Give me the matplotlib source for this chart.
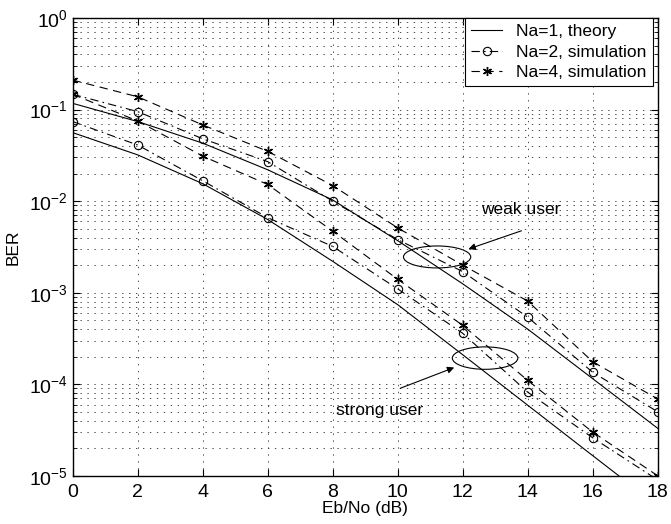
import numpy as np
import matplotlib
matplotlib.use("Agg")
import matplotlib.pyplot as plt
from matplotlib.patches import Ellipse
from matplotlib.ticker import LogLocator, NullFormatter

plt.rcParams['font.family'] = ['Liberation Sans', 'DejaVu Sans']
plt.rcParams['lines.scale_dashes'] = False

# Eb/No points (dB)
ebno = [0, 2, 4, 6, 8, 10, 12, 14, 16, 18]

# weak user
weak_theory = [0.117, 0.074, 0.043, 0.022, 0.0103, 0.0037, 0.00125, 4.0e-4, 1.15e-4, 3.3e-5]
weak_na2 = [0.147, 0.095, 0.048, 0.027, 0.0100, 0.0038, 0.0017, 5.4e-4, 1.35e-4, 5.0e-5]
weak_na4 = [0.21, 0.138, 0.068, 0.035, 0.0148, 0.0051, 0.0020, 8.1e-4, 1.76e-4, 6.9e-5]

# strong user
strong_theory = [0.056, 0.032, 0.0155, 0.0063, 0.0022, 7.4e-4, 2.1e-4, 5.9e-5, 1.66e-5, 4.7e-6]
strong_na2 = [0.074, 0.041, 0.0167, 0.0066, 0.0032, 0.0011, 3.6e-4, 8.2e-5, 2.6e-5, 9.0e-6]
strong_na4 = [0.147, 0.075, 0.031, 0.0152, 0.0047, 0.0014, 4.4e-4, 1.1e-4, 3.0e-5, 1.0e-5]

fig = plt.figure(figsize=(6.71, 5.24), dpi=100)
ax = fig.add_axes([0.1083, 0.0921, 0.8718, 0.8735])

ast = (6, 2, 0)  # asterisk marker
lw = 0.8
dash = (6, 4)
dashdot = (6, 3, 1.2, 3)
circ = dict(marker='o', ms=6, mfc='none', mec='k', mew=0.8)
star = dict(marker=ast, ms=6.5, mec='k', mew=1.0)

for th, n2, n4 in [(weak_theory, weak_na2, weak_na4), (strong_theory, strong_na2, strong_na4)]:
    ax.plot(ebno, th, color='k', lw=lw, ls='-')
    ax.plot(ebno, n2, color='k', lw=lw, ls='-', dashes=dashdot, **circ)
    ax.plot(ebno, n4, color='k', lw=lw, ls='-', dashes=dash, **star)

ax.set_yscale('log')
ax.set_xlim(0, 18)
ax.set_ylim(1e-5, 1)
ax.set_xticks(range(0, 19, 2))
ax.yaxis.set_major_locator(LogLocator(base=10, numticks=10))
ax.yaxis.set_minor_locator(LogLocator(base=10, subs=np.arange(2, 10), numticks=10))
ax.yaxis.set_minor_formatter(NullFormatter())

gridstyle = dict(ls=(0, (1, 4)), color='0.3', lw=0.7)
ax.grid(True, which='major', **gridstyle)
ax.yaxis.grid(True, which='minor', **gridstyle)
ax.tick_params(which='both', direction='in', top=True, right=True)
ax.tick_params(axis='x', labelsize=14, pad=6)
ax.tick_params(axis='y', labelsize=14)
ax.tick_params(which='major', length=5)
ax.tick_params(which='minor', length=3)
for s in ax.spines.values():
    s.set_linewidth(1.0)

ax.set_xlabel('Eb/No (dB)', fontsize=12.5, labelpad=0)
ax.set_ylabel('BER', fontsize=12.5, labelpad=6)

# legend proxies
h1, = ax.plot([], [], color='k', lw=lw, ls='-')
h2, = ax.plot([], [], color='k', lw=lw, ls='-', dashes=dashdot, **circ)
h3, = ax.plot([], [], color='k', lw=lw, ls='-', dashes=dash, **star)
leg = ax.legend([h1, h2, h3], ['Na=1, theory', 'Na=2, simulation', 'Na=4, simulation'],
                loc='upper right', bbox_to_anchor=(0.9915, 1.0), borderaxespad=0,
                fontsize=12.5, fancybox=False, framealpha=1, edgecolor='k',
                handlelength=1.8, handletextpad=0.8, labelspacing=0.3, borderpad=0.35)
leg.get_frame().set_linewidth(0.8)

# ellipses around curve groups
ax.add_patch(Ellipse((0.623, 0.478), 0.115, 0.048, transform=ax.transAxes,
                     fill=False, ec='k', lw=0.8))
ax.add_patch(Ellipse((0.705, 0.257), 0.112, 0.049, transform=ax.transAxes,
                     fill=False, ec='k', lw=0.8))

ax.text(13.8, 8.2e-3, 'weak user', fontsize=12.5, ha='center', va='center')
ax.annotate('', xy=(12.1, 2.93e-3), xytext=(13.89, 4.85e-3),
            arrowprops=dict(arrowstyle='-|>', color='k', lw=0.8, mutation_scale=10))
ax.text(9.44, 5.1e-5, 'strong user', fontsize=12.5, ha='center', va='center')
ax.annotate('', xy=(11.82, 1.56e-4), xytext=(10.0, 8.8e-5),
            arrowprops=dict(arrowstyle='-|>', color='k', lw=0.8, mutation_scale=10))

fig.savefig('out.png', dpi=100)
